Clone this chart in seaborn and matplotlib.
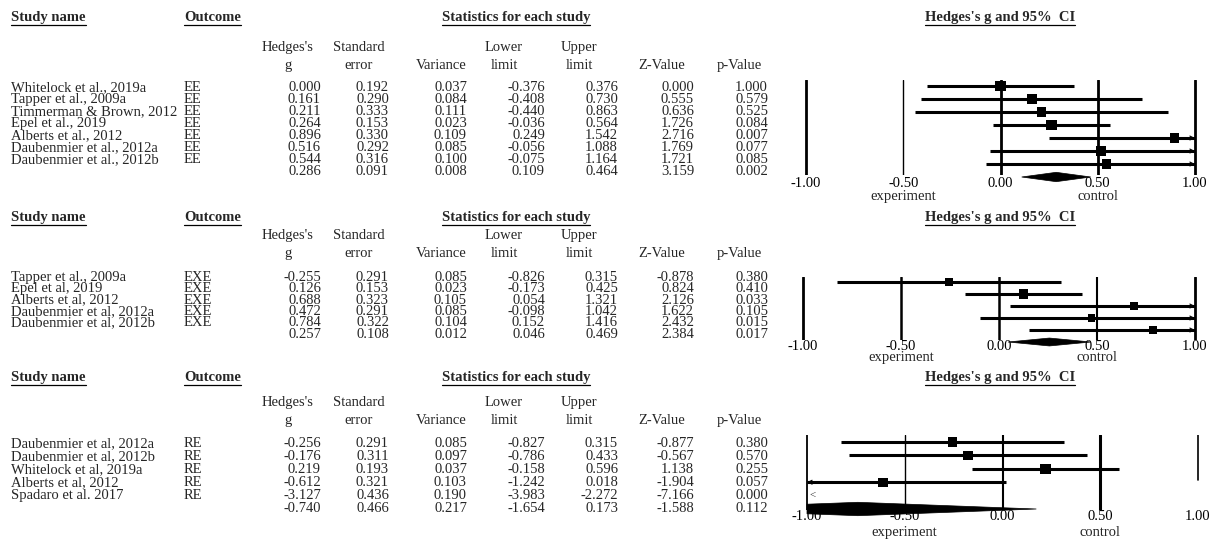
import numpy as np
import pandas as pd
import matplotlib
matplotlib.use("Agg")
import matplotlib.pyplot as plt
import seaborn as sns
from matplotlib.patches import Polygon

# ---------------- data (last value of each list = summary row) ----------------
ee_names = ['Whitelock et al., 2019a', 'Tapper et al., 2009a', 'Timmerman & Brown, 2012',
            'Epel et al., 2019', 'Alberts et al., 2012', 'Daubenmier et al., 2012a',
            'Daubenmier et al., 2012b']
ee_g = [0.000, 0.161, 0.211, 0.264, 0.896, 0.516, 0.544, 0.286]
ee_se = [0.192, 0.290, 0.333, 0.153, 0.330, 0.292, 0.316, 0.091]
ee_var = [0.037, 0.084, 0.111, 0.023, 0.109, 0.085, 0.100, 0.008]
ee_lo = [-0.376, -0.408, -0.440, -0.036, 0.249, -0.056, -0.075, 0.109]
ee_hi = [0.376, 0.730, 0.863, 0.564, 1.542, 1.088, 1.164, 0.464]
ee_z = [0.000, 0.555, 0.636, 1.726, 2.716, 1.769, 1.721, 3.159]
ee_p = [1.000, 0.579, 0.525, 0.084, 0.007, 0.077, 0.085, 0.002]

exe_names = ['Tapper et al., 2009a', 'Epel et al, 2019', 'Alberts et al, 2012',
             'Daubenmier et al, 2012a', 'Daubenmier et al, 2012b']
exe_g = [-0.255, 0.126, 0.688, 0.472, 0.784, 0.257]
exe_se = [0.291, 0.153, 0.323, 0.291, 0.322, 0.108]
exe_var = [0.085, 0.023, 0.105, 0.085, 0.104, 0.012]
exe_lo = [-0.826, -0.173, 0.054, -0.098, 0.152, 0.046]
exe_hi = [0.315, 0.425, 1.321, 1.042, 1.416, 0.469]
exe_z = [-0.878, 0.824, 2.126, 1.622, 2.432, 2.384]
exe_p = [0.380, 0.410, 0.033, 0.105, 0.015, 0.017]

re_names = ['Daubenmier et al, 2012a', 'Daubenmier et al, 2012b', 'Whitelock et al, 2019a',
            'Alberts et al, 2012', 'Spadaro et al. 2017']
re_g = [-0.256, -0.176, 0.219, -0.612, -3.127, -0.740]
re_se = [0.291, 0.311, 0.193, 0.321, 0.436, 0.466]
re_var = [0.085, 0.097, 0.037, 0.103, 0.190, 0.217]
re_lo = [-0.827, -0.786, -0.158, -1.242, -3.983, -1.654]
re_hi = [0.315, 0.433, 0.596, 0.018, -2.272, 0.173]
re_z = [-0.877, -0.567, 1.138, -1.904, -7.166, -1.588]
re_p = [0.380, 0.570, 0.255, 0.057, 0.000, 0.112]

tick_vals = [-1.0, -0.5, 0.0, 0.5, 1.0]
tick_labels = ['-1.00', '-0.50', '0.00', '0.50', '1.00']

col_keys = ['g', 'se', 'var', 'lo', 'hi', 'z', 'p']
col_heads = [("Hedges's", 'g'), ('Standard', 'error'), (None, 'Variance'),
             ('Lower', 'limit'), ('Upper', 'limit'), (None, 'Z-Value'), (None, 'p-Value')]

panels = [
    dict(names=ee_names, outcome='EE', g=ee_g, se=ee_se, var=ee_var, lo=ee_lo, hi=ee_hi, z=ee_z, p=ee_p),
    dict(names=exe_names, outcome='EXE', g=exe_g, se=exe_se, var=exe_var, lo=exe_lo, hi=exe_hi, z=exe_z, p=exe_p),
    dict(names=re_names, outcome='RE', g=re_g, se=re_se, var=re_var, lo=re_lo, hi=re_hi, z=re_z, p=re_p),
]

# ---------------- layout (pixels) ----------------
W, H = 1213, 540
col_right = [321, 389, 467, 545, 618, 694, 768]
col_center = [288, 359, 441, 504, 579, 662, 739]
layouts = [
    dict(head=16, c1=46, c2=64, r0=86, dr=12.0,
         fx=(806, 1195), ftop=80, fbot=175, fr0=86, fdr=13, pad=1.5, lab=20,
         vlw=[2.0, 1.0, 2.0, 2.0, 2.0], vmin=[0, 0, 0, 0, 0], sq=(45, 62), dh=0.36),
    dict(head=216, c1=234, c2=252, r0=276, dr=11.3,
         fx=(803, 1195), ftop=277, fbot=340, fr0=282, fdr=12, pad=0.3, lab=16,
         vlw=[2.0, 1.8, 1.8, 1.5, 2.0], vmin=[0, 0, 0, 0, 0], sq=(32, 42), dh=0.33),
    dict(head=376, c1=401, c2=419, r0=442, dr=13.0,
         fx=(807, 1198), ftop=435, fbot=510, fr0=442, fdr=13.4, pad=0.3, lab=21,
         vlw=[1.3, 1.0, 1.5, 2.2, 1.2], vmin=[0, 0, 0, 0, 0.4], sq=(45, 58), dh=0.5),
]

sns.set_theme(style='white')
plt.rcParams['font.family'] = ['Liberation Serif', 'DejaVu Serif']
FS = 10.5

fig = plt.figure(figsize=(W / 100, H / 100), dpi=100)
tab = fig.add_axes([0, 0, 1, 1])
tab.set_xlim(0, W)
tab.set_ylim(H, 0)
tab.axis('off')

underlined = []


def draw_table(d, lay):
    for txt, x, ha in [('Study name', 11, 'left'), ('Outcome', 184, 'left'),
                       ('Statistics for each study', 516, 'center'),
                       ("Hedges's g and 95%  CI", 1000, 'center')]:
        t = tab.text(x, lay['head'], txt, ha=ha, va='center_baseline',
                     fontsize=FS, fontweight='bold')
        underlined.append(t)
    for (l1, l2), xc in zip(col_heads, col_center):
        if l1:
            tab.text(xc, lay['c1'], l1, ha='center', va='center_baseline', fontsize=FS)
        tab.text(xc, lay['c2'], l2, ha='center', va='center_baseline', fontsize=FS)
    for i in range(len(d['g'])):
        yy = lay['r0'] + i * lay['dr']
        if i < len(d['names']):
            tab.text(11, yy, d['names'][i], ha='left', va='center_baseline', fontsize=FS)
            tab.text(184, yy, d['outcome'], ha='left', va='center_baseline', fontsize=FS)
        for k, xr in zip(col_keys, col_right):
            tab.text(xr, yy, f"{d[k][i]:.3f}", ha='right', va='center_baseline', fontsize=FS)


def draw_forest(d, lay):
    xm1, xp1 = lay['fx']
    ppu = (xp1 - xm1) / 2.0
    left = xm1 - 0.06 * ppu
    top, bot = lay['ftop'], lay['fbot']
    ax = fig.add_axes([left / W, 1 - bot / H, 2.12 * ppu / W, (bot - top) / H])
    ax.patch.set_visible(False)

    n = len(d['names'])
    g = np.array(d['g'][:n])
    lo = np.array(d['lo'][:n])
    hi = np.array(d['hi'][:n])
    w = 1.0 / np.array(d['var'][:n])
    rows = np.arange(n)

    for xv, lw, vm in zip(tick_vals, lay['vlw'], lay['vmin']):
        ax.axvline(xv, ymin=vm, ymax=1, color='black', lw=lw, zorder=1)

    vis = (hi > -1) & (lo < 1)
    ax.hlines(rows[vis], np.clip(lo, -1, 1)[vis], np.clip(hi, -1, 1)[vis],
              color='black', lw=2.2, zorder=2)
    arrow = dict(arrowstyle='->', lw=0.8, color='black', shrinkA=0, shrinkB=0,
                 mutation_scale=7)
    for r, l, h in zip(rows, lo, hi):
        if h > 1 and l < 1:
            ax.annotate('', xy=(1.0, r), xytext=(0.92, r), arrowprops=arrow, zorder=4)
        if l < -1 and h > -1:
            ax.annotate('', xy=(-1.0, r), xytext=(-0.92, r), arrowprops=arrow, zorder=4)
        if h <= -1:
            ax.text(-0.985, r, '<', ha='left', va='center', fontsize=8, color='#333333')

    df = pd.DataFrame({'g': g, 'row': rows, 'w': w})
    df = df[(df.g >= -1) & (df.g <= 1)]
    sns.scatterplot(data=df, x='g', y='row', size='w', sizes=lay['sq'], marker='s',
                    color='black', edgecolor='black', linewidth=0, legend=False,
                    ax=ax, zorder=3)

    # summary diamond
    gs, ls, hs = d['g'][n], d['lo'][n], d['hi'][n]
    yd, hh = n, lay['dh']
    if ls >= -1:
        pts = [[ls, yd], [gs, yd - hh], [hs, yd], [gs, yd + hh]]
    else:
        t = (-1 - ls) / (gs - ls)
        pts = [[-1, yd - hh * t], [gs, yd - hh], [hs, yd], [gs, yd + hh], [-1, yd + hh * t]]
        ax.annotate('', xy=(-1.0, yd), xytext=(-0.92, yd), arrowprops=arrow, zorder=4)
    ax.add_patch(Polygon(pts, closed=True, facecolor='black', edgecolor='black',
                         lw=0.5, clip_on=False, zorder=3))

    ax.set_xlim(-1.06, 1.06)
    ax.set_ylim((bot - lay['fr0']) / lay['fdr'], (top - lay['fr0']) / lay['fdr'])
    ax.set_xticks(tick_vals, labels=tick_labels)
    ax.set_yticks([])
    ax.set_xlabel('')
    ax.set_ylabel('')
    ax.tick_params(axis='x', length=0, pad=lay['pad'], labelsize=FS, colors='black')
    for s in ax.spines.values():
        s.set_visible(False)
    for xv, txt in [(-0.5, 'experiment'), (0.5, 'control')]:
        ax.annotate(txt, xy=(xv, 0), xycoords=('data', 'axes fraction'),
                    xytext=(0, -lay['lab'] * 0.72), textcoords='offset points',
                    ha='center', va='center_baseline', fontsize=FS)


for d, lay in zip(panels, layouts):
    draw_table(d, lay)
    draw_forest(d, lay)

# underline the bold headers
fig.canvas.draw()
rend = fig.canvas.get_renderer()
for t in underlined:
    bb = t.get_window_extent(renderer=rend)
    yu = H - bb.y0 + 0.5
    tab.plot([bb.x0, bb.x1], [yu, yu], color='black', lw=0.9)

fig.savefig('out.png', dpi=100, facecolor='white')
